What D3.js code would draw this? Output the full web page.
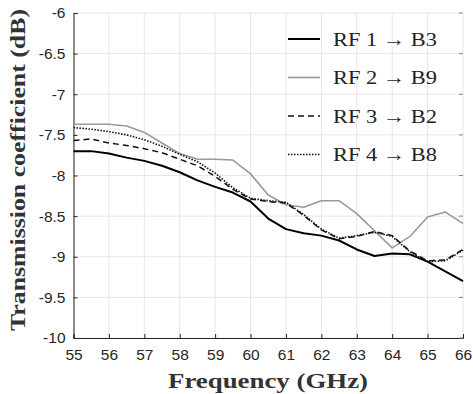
<!DOCTYPE html>
<html>
<head>
<meta charset="utf-8">
<script src="https://cdn.jsdelivr.net/npm/d3@7"></script>
<style>
  body { margin: 0; background: #fff; }
  svg { display: block; }
</style>
</head>
<body>
<svg></svg>
<script>
const width = 473;
const height = 394;
const margin = { top: 13, right: 10, bottom: 56, left: 73.5 };

// frequency grid (GHz)
const freq = [55, 55.5, 56, 56.5, 57, 57.5, 58, 58.5, 59, 59.5, 60, 60.5,
  61, 61.5, 62, 62.5, 63, 63.5, 64, 64.5, 65, 65.5, 66];

const rf1 = [-7.70, -7.70, -7.73, -7.78, -7.82, -7.88, -7.96, -8.06, -8.14, -8.21, -8.32, -8.53,
  -8.66, -8.71, -8.74, -8.80, -8.91, -8.99, -8.96, -8.97, -9.06, -9.18, -9.30];
const rf2 = [-7.37, -7.37, -7.37, -7.39, -7.47, -7.60, -7.73, -7.80, -7.80, -7.81, -7.98, -8.24,
  -8.36, -8.39, -8.31, -8.31, -8.47, -8.68, -8.89, -8.75, -8.51, -8.45, -8.59];
const rf3 = [-7.57, -7.55, -7.60, -7.63, -7.67, -7.72, -7.80, -7.88, -8.01, -8.17, -8.29, -8.32,
  -8.34, -8.49, -8.67, -8.78, -8.75, -8.69, -8.74, -8.93, -9.05, -9.04, -8.91];
const rf4 = [-7.41, -7.43, -7.46, -7.50, -7.56, -7.64, -7.74, -7.83, -7.97, -8.15, -8.28, -8.31,
  -8.33, -8.48, -8.66, -8.77, -8.74, -8.70, -8.75, -8.94, -9.06, -9.05, -8.92];

const seriesNames = ['RF 1 \u2192 B3', 'RF 2 \u2192 B9', 'RF 3 \u2192 B2', 'RF 4 \u2192 B8'];
const xTicks = [55, 56, 57, 58, 59, 60, 61, 62, 63, 64, 65, 66];
const yTicks = [-6, -6.5, -7, -7.5, -8, -8.5, -9, -9.5, -10];

const series = [
  { name: seriesNames[0], values: rf1, color: '#000', width: 2, dash: null },
  { name: seriesNames[1], values: rf2, color: '#999', width: 1.6, dash: null },
  { name: seriesNames[2], values: rf3, color: '#111', width: 1.5, dash: '6,4' },
  { name: seriesNames[3], values: rf4, color: '#111', width: 1.6, dash: '1.5,1.5' }
];

const svg = d3.select('svg')
  .attr('width', width)
  .attr('height', height);

const x = d3.scaleLinear()
  .domain([55, 66])
  .range([margin.left, width - margin.right]);

const y = d3.scaleLinear()
  .domain([-10, -6])
  .range([height - margin.bottom, margin.top]);

// grid
svg.append('g')
  .selectAll('line')
  .data(xTicks)
  .enter().append('line')
  .attr('x1', d => x(d)).attr('x2', d => x(d))
  .attr('y1', margin.top).attr('y2', height - margin.bottom)
  .attr('stroke', '#e6e6e6');

svg.append('g')
  .selectAll('line')
  .data(yTicks)
  .enter().append('line')
  .attr('x1', margin.left).attr('x2', width - margin.right)
  .attr('y1', d => y(d)).attr('y2', d => y(d))
  .attr('stroke', '#e6e6e6');

// axes (MATLAB style, ticks inward)
const xAxis = d3.axisBottom(x).tickValues(xTicks).tickSize(-4).tickPadding(10).tickFormat(d3.format('d'));
const yAxis = d3.axisLeft(y).tickValues(yTicks).tickSize(-4).tickPadding(8).tickFormat(d => d);

const gx = svg.append('g')
  .attr('transform', `translate(0,${height - margin.bottom})`)
  .call(xAxis);

const gy = svg.append('g')
  .attr('transform', `translate(${margin.left},0)`)
  .call(yAxis);

[gx, gy].forEach(g => {
  g.select('.domain').attr('stroke', '#262626');
  g.selectAll('.tick line').attr('stroke', '#262626');
  g.selectAll('.tick text')
    .attr('fill', '#262626')
    .style('font-family', 'Liberation Sans, Arial, sans-serif')
    .style('font-size', '15.5px');
});
gx.selectAll('.tick text').attr('dy', '0.75em');

// right-side ticks
svg.append('g')
  .selectAll('line')
  .data(yTicks)
  .enter().append('line')
  .attr('x1', width - margin.right - 4).attr('x2', width - margin.right)
  .attr('y1', d => y(d)).attr('y2', d => y(d))
  .attr('stroke', '#888');

// lines
const line = d3.line()
  .x((d, i) => x(freq[i]))
  .y(d => y(d));

svg.append('g')
  .selectAll('path')
  .data(series)
  .enter().append('path')
  .attr('d', d => line(d.values))
  .attr('fill', 'none')
  .attr('stroke', d => d.color)
  .attr('stroke-width', d => d.width)
  .attr('stroke-dasharray', d => d.dash)
  .attr('stroke-linejoin', 'round');

// legend
const legend = svg.append('g')
  .selectAll('g')
  .data(series)
  .enter().append('g')
  .attr('transform', (d, i) => `translate(288,${39 + i * 38.5})`);

legend.append('line')
  .attr('x1', 0).attr('x2', 32)
  .attr('stroke', d => d.color)
  .attr('stroke-width', d => d.width)
  .attr('stroke-dasharray', d => d.dash);

legend.append('text')
  .attr('x', 45)
  .attr('dy', '0.35em')
  .attr('fill', '#222')
  .attr('textLength', 104)
  .attr('lengthAdjust', 'spacingAndGlyphs')
  .style('font-family', 'Liberation Serif, serif')
  .style('font-size', '19.5px')
  .text(d => d.name);

// axis titles
svg.append('text')
  .attr('x', 268)
  .attr('y', 388)
  .attr('text-anchor', 'middle')
  .attr('fill', '#333')
  .attr('textLength', 200)
  .attr('lengthAdjust', 'spacingAndGlyphs')
  .style('font-family', 'Liberation Serif, serif')
  .style('font-weight', 'bold')
  .style('font-size', '21px')
  .text('Frequency (GHz)');

svg.append('text')
  .attr('transform', 'translate(25,170) rotate(-90)')
  .attr('text-anchor', 'middle')
  .attr('fill', '#333')
  .attr('textLength', 322)
  .attr('lengthAdjust', 'spacingAndGlyphs')
  .style('font-family', 'Liberation Serif, serif')
  .style('font-weight', 'bold')
  .style('font-size', '21px')
  .text('Transmission coefficient (dB)');
</script>
</body>
</html>
